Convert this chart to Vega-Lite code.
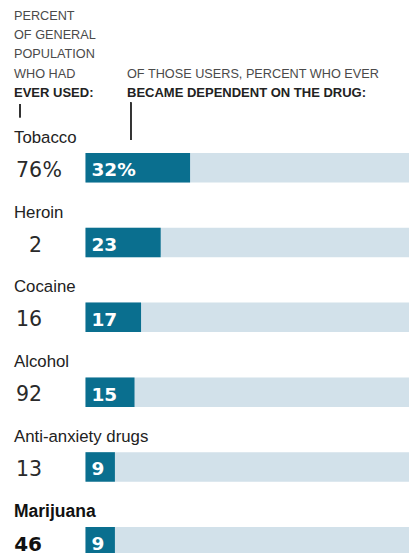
{
  "$schema": "https://vega.github.io/schema/vega-lite/v6.json",
  "padding": 0,
  "background": "white",
  "spacing": 0,
  "bounds": "flush",
  "config": {"view": {"stroke": null}, "axis": {"disable": true}},
  "datasets": {
    "header": [
      {"col": "left", "line": 1, "text": "PERCENT", "bold": false},
      {"col": "left", "line": 2, "text": "OF GENERAL", "bold": false},
      {"col": "left", "line": 3, "text": "POPULATION", "bold": false},
      {"col": "left", "line": 4, "text": "WHO HAD", "bold": false},
      {"col": "left", "line": 5, "text": "EVER USED:", "bold": true},
      {"col": "right", "line": 4, "text": "OF THOSE USERS, PERCENT WHO EVER", "bold": false},
      {"col": "right", "line": 5, "text": "BECAME DEPENDENT ON THE DRUG:", "bold": true}
    ],
    "drugs": [
      {"drug": "Tobacco", "ever": 76, "unit": "%", "dep": 32, "depLabel": "32%", "bold": false},
      {"drug": "Heroin", "ever": 2, "unit": "", "dep": 23, "depLabel": "23", "bold": false},
      {"drug": "Cocaine", "ever": 16, "unit": "", "dep": 17, "depLabel": "17", "bold": false},
      {"drug": "Alcohol", "ever": 92, "unit": "", "dep": 15, "depLabel": "15", "bold": false},
      {"drug": "Anti-anxiety drugs", "ever": 13, "unit": "", "dep": 9, "depLabel": "9", "bold": false},
      {"drug": "Marijuana", "ever": 46, "unit": "", "dep": 9, "depLabel": "9", "bold": true}
    ]
  },
  "vconcat": [
    {
      "width": 409,
      "height": 125,
      "data": {"name": "header"},
      "layer": [
        {
          "transform": [{"filter": "!datum.bold"}],
          "mark": {"type": "text", "align": "left", "baseline": "alphabetic", "font": "Liberation Sans", "fontSize": 12.7, "color": "#4a4a4a", "dy": 0.6},
          "encoding": {
            "x": {"field": "col", "type": "nominal", "scale": {"type": "point", "domain": ["left", "right"], "range": [14, 127], "padding": 0}, "axis": null},
            "y": {"field": "line", "type": "quantitative", "scale": {"domain": [0, 6.5], "reverse": true}, "axis": null},
            "text": {"field": "text"}
          }
        },
        {
          "transform": [{"filter": "datum.bold"}],
          "mark": {"type": "text", "align": "left", "baseline": "alphabetic", "font": "Liberation Sans", "fontSize": 13, "fontWeight": "bold", "color": "#222222", "dy": 0.6},
          "encoding": {
            "x": {"field": "col", "type": "nominal"},
            "y": {"field": "line", "type": "quantitative"},
            "text": {"field": "text"}
          }
        },
        {
          "mark": {"type": "rule", "color": "#333333", "strokeWidth": 1.2, "xOffset": 6},
          "encoding": {"x": {"datum": "left", "type": "nominal"}, "y": {"datum": 5.41, "type": "quantitative"}, "y2": {"datum": 6.1}}
        },
        {
          "mark": {"type": "rule", "color": "#333333", "strokeWidth": 1.4, "xOffset": 3.7},
          "encoding": {"x": {"datum": "right", "type": "nominal"}, "y": {"datum": 5.33, "type": "quantitative"}, "y2": {"datum": 7.28}}
        }
      ]
    },
    {
      "width": 409,
      "height": 448.8,
      "data": {"name": "drugs"},
      "layer": [
        {
          "mark": {"type": "bar", "color": "#d2e1ea", "height": 29.5, "yOffset": 5.35, "clip": true},
          "encoding": {
            "y": {"field": "drug", "type": "nominal", "sort": null, "scale": {"type": "band", "paddingInner": 0, "paddingOuter": 0}, "axis": null},
            "x": {"datum": 100, "type": "quantitative", "scale": {"domain": [0, 99], "range": [85.5, 409], "nice": false, "zero": false}, "axis": null},
            "x2": {"datum": 0}
          }
        },
        {
          "mark": {"type": "bar", "color": "#0a6f8f", "height": 29.5, "yOffset": 5.35},
          "encoding": {
            "y": {"field": "drug", "type": "nominal", "sort": null},
            "x": {"field": "dep", "type": "quantitative"},
            "x2": {"datum": 0}
          }
        },
        {
          "mark": {"type": "text", "align": "left", "baseline": "alphabetic", "font": "DejaVu Sans", "fontWeight": "bold", "fontSize": 18.5, "color": "white", "dx": 6, "dy": 51.2},
          "encoding": {
            "x": {"datum": 0, "type": "quantitative"},
            "y": {"field": "drug", "type": "nominal", "sort": null, "bandPosition": 0},
            "text": {"field": "depLabel"}
          }
        },
        {
          "transform": [{"filter": "!datum.bold"}],
          "mark": {"type": "text", "align": "left", "baseline": "alphabetic", "font": "Liberation Sans", "fontSize": 16.8, "color": "#222222", "dx": -71.5, "dy": 17.8},
          "encoding": {
            "x": {"datum": 0, "type": "quantitative"},
            "y": {"field": "drug", "type": "nominal", "sort": null, "bandPosition": 0},
            "text": {"field": "drug"}
          }
        },
        {
          "transform": [{"filter": "datum.bold"}],
          "mark": {"type": "text", "align": "left", "baseline": "alphabetic", "font": "Liberation Sans", "fontSize": 17.5, "fontWeight": "bold", "color": "#111111", "dx": -71.5, "dy": 17.8},
          "encoding": {
            "x": {"datum": 0, "type": "quantitative"},
            "y": {"field": "drug", "type": "nominal", "sort": null, "bandPosition": 0},
            "text": {"field": "drug"}
          }
        },
        {
          "transform": [{"filter": "!datum.bold"}],
          "mark": {"type": "text", "align": "right", "baseline": "alphabetic", "font": "DejaVu Sans", "fontSize": 20.5, "color": "#2a2a2a", "dx": -43.5, "dy": 51.7},
          "encoding": {
            "x": {"datum": 0, "type": "quantitative"},
            "y": {"field": "drug", "type": "nominal", "sort": null, "bandPosition": 0},
            "text": {"field": "ever"}
          }
        },
        {
          "transform": [{"filter": "datum.bold"}],
          "mark": {"type": "text", "align": "right", "baseline": "alphabetic", "font": "DejaVu Sans", "fontSize": 20, "fontWeight": "bold", "color": "#111111", "dx": -43.5, "dy": 51.7},
          "encoding": {
            "x": {"datum": 0, "type": "quantitative"},
            "y": {"field": "drug", "type": "nominal", "sort": null, "bandPosition": 0},
            "text": {"field": "ever"}
          }
        },
        {
          "mark": {"type": "text", "align": "left", "baseline": "alphabetic", "font": "DejaVu Sans", "fontSize": 20.5, "color": "#2a2a2a", "dx": -43, "dy": 51.7},
          "encoding": {
            "x": {"datum": 0, "type": "quantitative"},
            "y": {"field": "drug", "type": "nominal", "sort": null, "bandPosition": 0},
            "text": {"field": "unit"}
          }
        }
      ]
    }
  ]
}
